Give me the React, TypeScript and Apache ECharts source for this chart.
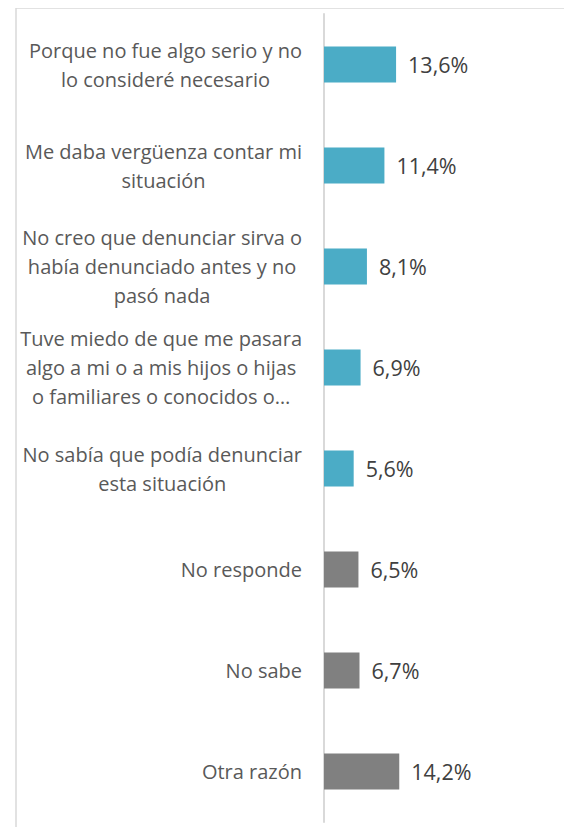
import React, { useEffect, useRef } from "react";
import * as echarts from "echarts";

const categories: string[] = [
  "Porque no fue algo serio y no\nlo consideré necesario",
  "Me daba vergüenza contar mi\nsituación",
  "No creo que denunciar sirva o\nhabía denunciado antes y no\npasó nada",
  "Tuve miedo de que me pasara\nalgo a mi o a mis hijos o hijas\no familiares o conocidos o…",
  "No sabía que podía denunciar\nesta situación",
  "No responde",
  "No sabe",
  "Otra razón",
];
const values: number[] = [13.6, 11.4, 8.1, 6.9, 5.6, 6.5, 6.7, 14.2];
const isReason: boolean[] = [true, true, true, true, true, false, false, false];

const TEAL = "#4BACC6";
const GRAY = "#808080";
const FONT = "Open Sans";

export default function App() {
  const ref = useRef<HTMLDivElement>(null);
  useEffect(() => {
    if (!ref.current) return;
    const chart = echarts.init(ref.current, undefined, { renderer: "svg" });
    chart.setOption({
      animation: false,
      backgroundColor: "#ffffff",
      graphic: [
        {
          type: "rect",
          shape: { x: 8, y: 0, width: 700, height: 1000 },
          style: { fill: "none", stroke: "#D9D9D9", lineWidth: 1.5 },
          silent: true,
          z: -10,
        },
      ],
      grid: { left: 316, top: 6, width: 212, bottom: 5 },
      xAxis: {
        type: "value",
        min: 0,
        max: 40,
        show: false,
      },
      yAxis: {
        type: "category",
        inverse: true,
        data: categories,
        axisLine: { show: true, lineStyle: { color: "#D9D9D9", width: 2 } },
        axisTick: { show: false },
        axisLabel: {
          margin: 22,
          formatter: (v: string) =>
            v
              .split("\n")
              .map((l) => `{c|${l}}`)
              .join("\n"),
          rich: {
            c: {
              align: "center",
              fontFamily: FONT,
              fontSize: 20,
              lineHeight: 29,
              color: "#595959",
            },
          },
        },
      },
      series: [
        {
          type: "bar",
          barWidth: 36,
          data: values.map((v, i) => ({
            value: v,
            itemStyle: { color: isReason[i] ? TEAL : GRAY },
          })),
          label: {
            show: true,
            position: "right",
            distance: 12,
            fontFamily: FONT,
            fontSize: 21.5,
            color: "#404040",
            formatter: (p: any) => p.value.toFixed(1).replace(".", ",") + "%",
          },
        },
      ],
    });
    return () => chart.dispose();
  }, []);
  return <div ref={ref} style={{ width: 564, height: 819 }} />;
}
